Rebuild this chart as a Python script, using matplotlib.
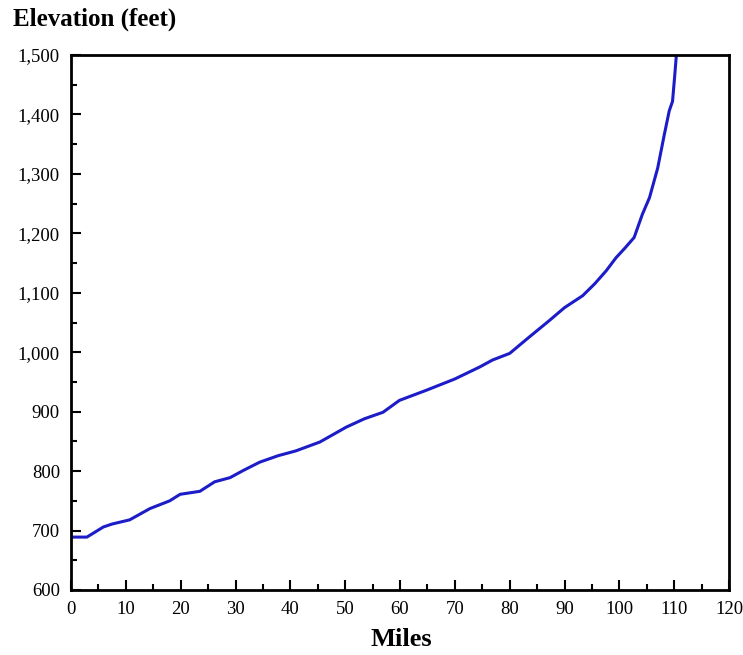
import matplotlib
matplotlib.use("Agg")
from matplotlib import pyplot as plt
from matplotlib.ticker import MultipleLocator, FuncFormatter

# river profile
miles = [0, 2.9, 5.9, 7.5, 10.7, 14.4, 18, 19.9, 23.5, 26.2, 29, 31.4, 34.4, 37.8,
         41, 45.4, 50.2, 53.5, 56.9, 59.9, 64.8, 70, 74.5, 76.9, 80, 83.5, 87.2,
         90, 93.3, 95.5, 97.6, 99.4, 101, 102.7, 104.2, 105.5, 107, 108.2, 109.1,
         109.7, 110.1, 110.4]
elev = [689, 689, 706, 711, 718, 737, 750, 761, 766, 782, 789, 801, 815, 826,
        834, 849, 874, 888, 899, 919, 936, 955, 975, 987, 998, 1025, 1053,
        1075, 1095, 1115, 1137, 1159, 1175, 1193, 1232, 1260, 1310, 1366, 1406,
        1422, 1465, 1500]

plt.rcParams['font.family'] = ['Liberation Serif', 'DejaVu Serif']

fig = plt.figure(figsize=(7.43, 6.55), dpi=100)
ax = fig.add_axes([71/743, 1 - 590/655, (729 - 71)/743, (590 - 55)/655])

ax.plot(miles, elev, color='#1c1cc8', lw=2.2)

ax.set_xlim(0, 120)
ax.set_ylim(600, 1500)
ax.xaxis.set_major_locator(MultipleLocator(10))
ax.xaxis.set_minor_locator(MultipleLocator(5))
ax.yaxis.set_major_locator(MultipleLocator(100))
ax.yaxis.set_minor_locator(MultipleLocator(50))
ax.yaxis.set_major_formatter(FuncFormatter(lambda v, p: f"{int(v):,}"))

ax.tick_params(which='major', direction='in', length=7, width=1.5, labelsize=13.5, pad=8, color='black')
ax.tick_params(which='minor', direction='in', length=4, width=1.5)
for s in ax.spines.values():
    s.set_linewidth(2)

fig.text(13/743, 1 - 19/655, "Elevation (feet)", fontsize=18, fontweight='bold', va='center', ha='left')
fig.text(401/743, 1 - 640/655, "Miles", fontsize=19, fontweight='bold', va='center', ha='center')

fig.savefig("out.png", dpi=100)
